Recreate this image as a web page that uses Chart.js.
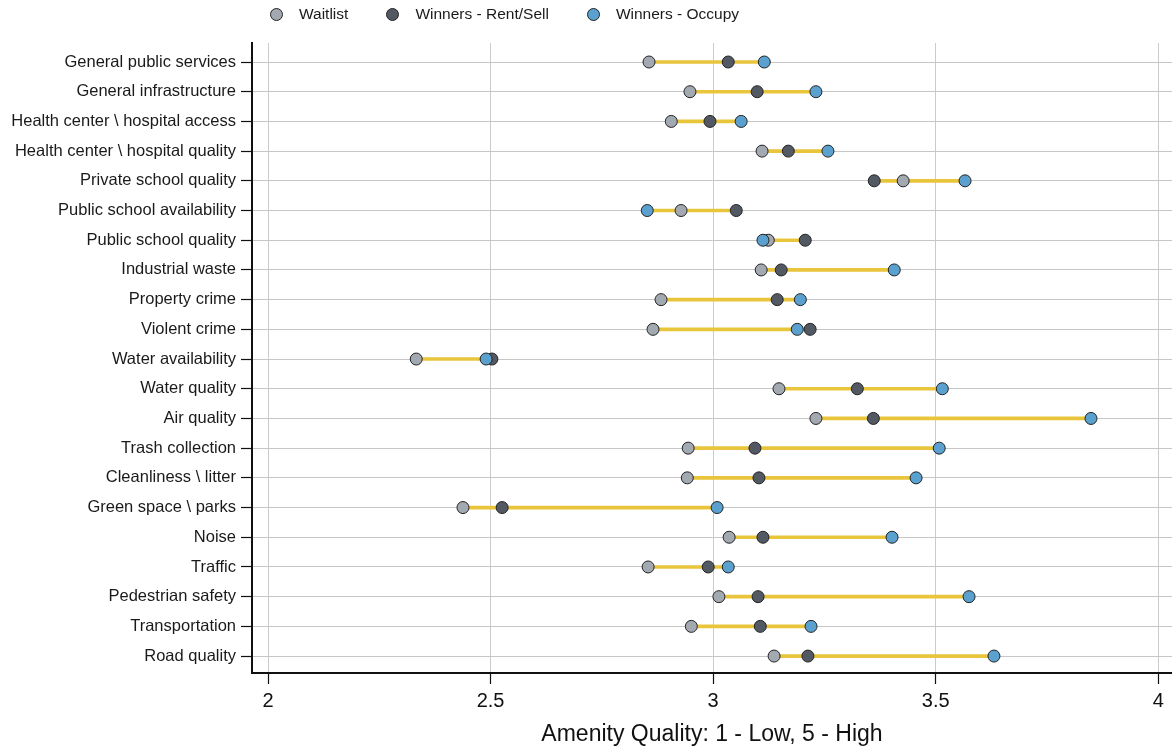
<!DOCTYPE html>
<html>
<head>
<meta charset="utf-8">
<script src="https://cdn.jsdelivr.net/npm/chart.js@4.4.1/dist/chart.umd.min.js"></script>
<style>
  html, body { margin: 0; padding: 0; background: #fff; }
  #wrap { position: relative; width: 1172px; height: 748px; }
  #legend { position: absolute; left: 270px; top: 5px; display: flex; font: 15.5px "Liberation Sans", Arial, sans-serif; color: #1a1a1a; }
  #legend .item { display: flex; align-items: center; margin-right: 38px; }
  #legend .dot { width: 11px; height: 11px; border-radius: 50%; border: 1px solid #222; margin-right: 16px; }
</style>
</head>
<body>
<div id="wrap">
  <canvas id="grafico" width="1172" height="748"></canvas>
  <div id="legend"></div>
</div>
<script>
const categorias = [
  'General public services', 'General infrastructure', 'Health center \\ hospital access',
  'Health center \\ hospital quality', 'Private school quality', 'Public school availability',
  'Public school quality', 'Industrial waste', 'Property crime', 'Violent crime',
  'Water availability', 'Water quality', 'Air quality', 'Trash collection',
  'Cleanliness \\ litter', 'Green space \\ parks', 'Noise', 'Traffic',
  'Pedestrian safety', 'Transportation', 'Road quality'
];
const waitlist = [2.856, 2.948, 2.906, 3.110, 3.427, 2.928, 3.124, 3.108, 2.883, 2.865,
  2.333, 3.148, 3.231, 2.944, 2.942, 2.438, 3.036, 2.854, 3.013, 2.951, 3.137];
const rentSell = [3.034, 3.099, 2.993, 3.169, 3.362, 3.052, 3.207, 3.153, 3.144, 3.218,
  2.503, 3.324, 3.360, 3.094, 3.103, 2.526, 3.112, 2.989, 3.101, 3.106, 3.213];
const occupy = [3.115, 3.231, 3.063, 3.258, 3.566, 2.852, 3.112, 3.407, 3.196, 3.189,
  2.490, 3.515, 3.849, 3.508, 3.456, 3.009, 3.402, 3.034, 3.575, 3.220, 3.631];
const xTicks = [2, 2.5, 3, 3.5, 4];
const series = ['Waitlist', 'Winners - Rent/Sell', 'Winners - Occupy'];
const cores = ['#a3a9b1', '#535963', '#5aa1cf'];

const fonte = '"Liberation Sans", Arial, sans-serif';
const pontos = (vals) => vals.map((v, i) => ({ x: v, y: i }));
const faixas = categorias.map((_, i) => {
  const vs = [waitlist[i], rentSell[i], occupy[i]];
  return { x: [Math.min(...vs), Math.max(...vs)], y: i };
});

// legenda em HTML
const leg = document.getElementById('legend');
series.forEach((nome, k) => {
  const it = document.createElement('div');
  it.className = 'item';
  it.innerHTML = '<span class="dot" style="background:' + cores[k] + '"></span><span>' + nome + '</span>';
  leg.appendChild(it);
});

function serieDePontos(k, vals, ordem) {
  return {
    type: 'line', label: series[k], data: pontos(vals), showLine: false,
    pointRadius: 6, pointHoverRadius: 6, pointBorderWidth: 1,
    pointBackgroundColor: cores[k], pointBorderColor: '#222', order: ordem
  };
}

new Chart(document.getElementById('grafico'), {
  type: 'bar',
  data: {
    datasets: [
      { label: 'range', data: faixas, backgroundColor: '#e9c53c', barThickness: 3, order: 4 },
      serieDePontos(0, waitlist, 3),
      serieDePontos(1, rentSell, 2),
      serieDePontos(2, occupy, 1)
    ]
  },
  options: {
    indexAxis: 'y',
    responsive: false,
    animation: false,
    layout: { autoPadding: false, padding: { top: 43, left: 0, right: 0, bottom: 0 } },
    plugins: { legend: { display: false }, tooltip: { enabled: false } },
    scales: {
      x: {
        type: 'linear', min: 1.964, max: 4.031,
        afterBuildTicks: (s) => { s.ticks = xTicks.map(v => ({ value: v })); },
        afterFit: (s) => { s.height = 75; s.paddingRight = 0; s.paddingLeft = 0; },
        grid: { color: '#cbcbcb', lineWidth: 1, tickColor: '#111', tickLength: 11, tickWidth: 1.2 },
        border: { color: '#111', width: 2 },
        ticks: { color: '#111', padding: 5, font: { family: fonte, size: 20 }, maxRotation: 0, callback: (v) => String(v) },
        title: { display: true, text: 'Amenity Quality: 1 - Low, 5 - High', color: '#111', font: { family: fonte, size: 23 }, padding: { top: 0, bottom: 0 } }
      },
      y: {
        type: 'linear', reverse: true, min: -0.64, max: 20.57, offset: false,
        afterBuildTicks: (s) => { s.ticks = categorias.map((_, i) => ({ value: i })); },
        afterFit: (s) => { s.width = 252; },
        grid: { offset: false, color: '#c6c6c6', lineWidth: 1, tickColor: '#111', tickLength: 11, tickWidth: 1.2 },
        border: { color: '#111', width: 2 },
        ticks: { color: '#1a1a1a', padding: 5, autoSkip: false, font: { family: fonte, size: 16.5 }, callback: (v) => categorias[v] }
      }
    }
  }
});
</script>
</body>
</html>
